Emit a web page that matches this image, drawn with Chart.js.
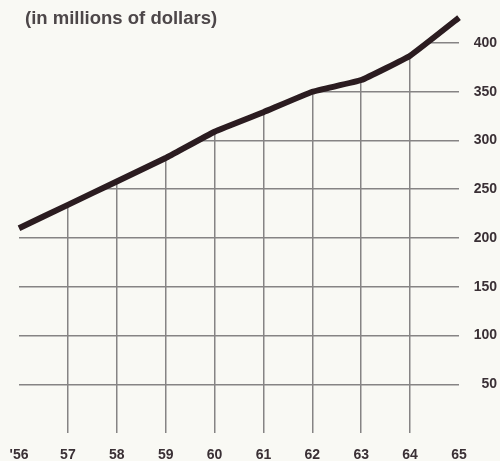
<!DOCTYPE html>
<html>
<head>
<meta charset="utf-8">
<script src="https://cdn.jsdelivr.net/npm/chart.js@4"></script>
<style>
  html, body { margin: 0; padding: 0; background: #f9f9f4; }
  #wrap { position: relative; width: 500px; height: 461px; }
  #title {
    position: absolute; left: 25px; top: 9px;
    font-family: "Liberation Sans", Arial, sans-serif;
    font-size: 18.5px; line-height: 1; font-weight: bold; color: #4d4749;
  }
</style>
</head>
<body>
<div id="wrap">
  <canvas id="chart" width="500" height="461"></canvas>
  <div id="title">(in millions of dollars)</div>
</div>
<script>
const years = ["'56", '57', '58', '59', '60', '61', '62', '63', '64', '65'];
const sales = [210, 234, 258, 282, 309, 329, 350, 362, 387, 426];
const yTicks = [50, 100, 150, 200, 250, 300, 350, 400];

const bg = '#f9f9f4';
const gridColor = '#868484';
const labelFont = { family: '"Liberation Sans Narrow", "Liberation Sans", Arial, sans-serif', size: 14, weight: 'bold', lineHeight: 1 };

const ctx = document.getElementById('chart').getContext('2d');

new Chart(ctx, {
  type: 'line',
  data: {
    labels: years,
    datasets: [{
      data: sales,
      borderColor: '#2b1c20',
      borderWidth: 6,
      borderCapStyle: 'butt',
      borderJoinStyle: 'round',
      tension: 0.1,
      pointRadius: 0,
      fill: 'end',
      backgroundColor: bg
    }]
  },
  options: {
    responsive: false,
    animation: false,
    layout: { padding: { left: 19, right: 3, top: 4, bottom: 0 } },
    plugins: {
      legend: { display: false },
      tooltip: { enabled: false }
    },
    scales: {
      x: {
        offset: false,
        border: { display: false },
        afterFit: scale => {
          scale.height = 28;
          scale.paddingLeft = 0;
          scale.paddingRight = 0;
        },
        grid: {
          drawTicks: false,
          lineWidth: 1.5,
          color: c => (c.index === 0 || c.index === years.length - 1) ? 'rgba(0,0,0,0)' : gridColor
        },
        ticks: { padding: 15, color: '#3a3035', font: labelFont, maxRotation: 0, autoSkip: false }
      },
      y: {
        position: 'right',
        min: 0,
        max: 440,
        border: { display: false },
        afterBuildTicks: scale => { scale.ticks = yTicks.map(v => ({ value: v })); },
        afterFit: scale => {
          scale.width = 38;
          scale.paddingTop = 0;
          scale.paddingBottom = 0;
        },
        grid: { drawTicks: false, lineWidth: 1.5, color: gridColor },
        ticks: { crossAlign: 'far', padding: 0, color: '#3a3035', font: labelFont }
      }
    }
  }
});
</script>
</body>
</html>
